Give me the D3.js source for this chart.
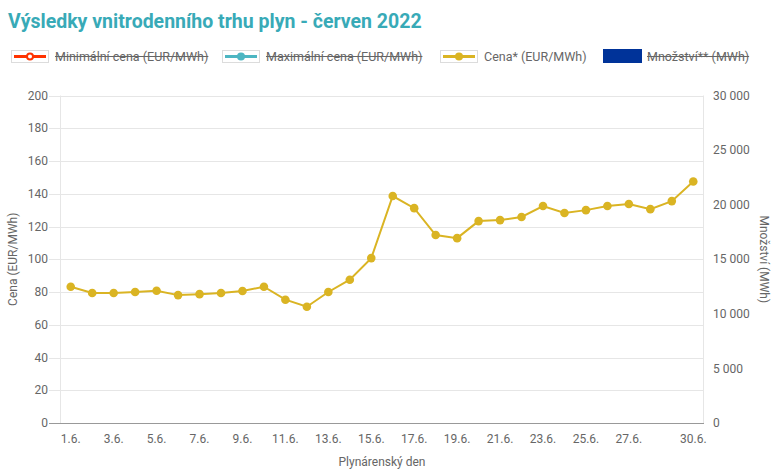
<!DOCTYPE html>
<html>
<head>
<meta charset="utf-8">
<script src="https://cdn.jsdelivr.net/npm/d3@7/dist/d3.min.js"></script>
<style>
  html, body { margin: 0; padding: 0; background: #fff; }
  svg { display: block; font-family: Roboto, "Noto Sans", sans-serif; }
</style>
</head>
<body>
<svg id="chart" width="780" height="475"></svg>
<script>
const title = "Výsledky vnitrodenního trhu plyn - červen 2022";
const days = ["1.6.","2.6.","3.6.","4.6.","5.6.","6.6.","7.6.","8.6.","9.6.","10.6.",
  "11.6.","12.6.","13.6.","14.6.","15.6.","16.6.","17.6.","18.6.","19.6.","20.6.",
  "21.6.","22.6.","23.6.","24.6.","25.6.","26.6.","27.6.","28.6.","29.6.","30.6."];
const price = [83.2, 79.4, 79.4, 80.0, 80.8, 78.1, 78.7, 79.4, 80.6, 83.2,
  75.3, 71.0, 80.0, 87.5, 100.7, 138.6, 131.2, 114.8, 112.9, 123.3,
  123.9, 125.8, 132.5, 128.2, 130.0, 132.5, 133.7, 130.6, 135.5, 147.5];
const xTickLabels = ["1.6.","3.6.","5.6.","7.6.","9.6.","11.6.","13.6.","15.6.","17.6.","19.6.","21.6.","23.6.","25.6.","27.6.","30.6."];
const leftTicks = [0,20,40,60,80,100,120,140,160,180,200];
const rightTicks = [0,5000,10000,15000,20000,25000,30000];
const legendItems = [
  {name: "Minimální cena (EUR/MWh)", type: "line", color: "#ff3300", hollow: true, hidden: true},
  {name: "Maximální cena (EUR/MWh)", type: "line", color: "#4db6c2", hollow: false, hidden: true},
  {name: "Cena* (EUR/MWh)", type: "line", color: "#dab423", hollow: false, hidden: false},
  {name: "Množství** (MWh)", type: "box", color: "#003399", hollow: false, hidden: true}
];

const svg = d3.select("#chart");
const L = 60, R = 704, T = 95.5, B = 423;
const gridColor = "#e6e6e6", textColor = "#666";

const x = d3.scaleBand().domain(days).range([L, R]);
const y = d3.scaleLinear().domain([0, 200]).range([B, T]);
const y2 = d3.scaleLinear().domain([0, 30000]).range([B, T]);

// Title
svg.append("text").attr("x", 8).attr("y", 28)
  .attr("font-size", 19.5).attr("font-weight", 700).attr("fill", "#38aab7")
  .text(title);

// Legend
const legendX = [11, 222, 440, 603];
legendItems.forEach((d, i) => {
  const g = svg.append("g").attr("transform", `translate(${legendX[i]},50)`);
  if (d.type === "line") {
    g.append("rect").attr("x", 0.5).attr("y", 0.5).attr("width", 37).attr("height", 12)
      .attr("fill", "#fff").attr("stroke", "#dcdcdc");
    g.append("line").attr("x1", 3).attr("x2", 35).attr("y1", 6.5).attr("y2", 6.5)
      .attr("stroke", d.color).attr("stroke-width", 3);
    g.append("circle").attr("cx", 19).attr("cy", 6.5).attr("r", d.hollow ? 3 : 4)
      .attr("fill", d.hollow ? "#fff" : d.color).attr("stroke", d.color).attr("stroke-width", d.hollow ? 2 : 0);
  } else {
    g.append("rect").attr("x", 0).attr("y", -1).attr("width", 39).attr("height", 14)
      .attr("fill", d.color);
  }
  const t = g.append("text").attr("x", 44).attr("y", 11).attr("font-size", 12.5)
    .attr("fill", textColor).text(d.name);
  if (d.hidden) {
    const w = t.node().getComputedTextLength();
    g.append("line").attr("x1", 44).attr("x2", 44 + w).attr("y1", 6.5).attr("y2", 6.5)
      .attr("stroke", textColor).attr("stroke-width", 1);
  }
});

// Grid
svg.append("g").selectAll("line").data(leftTicks).join("line")
  .attr("x1", L - 11).attr("x2", R).attr("y1", d => Math.round(y(d)) + 0.5).attr("y2", d => Math.round(y(d)) + 0.5)
  .attr("stroke", d => d === 0 ? "#999" : gridColor).attr("stroke-width", 1);
svg.append("line").attr("x1", L + 0.5).attr("x2", L + 0.5).attr("y1", T).attr("y2", B)
  .attr("stroke", gridColor);
svg.append("line").attr("x1", R - 0.5).attr("x2", R - 0.5).attr("y1", T).attr("y2", B)
  .attr("stroke", gridColor);

// Left axis labels
svg.append("g").selectAll("text").data(leftTicks).join("text")
  .attr("x", 48).attr("y", d => y(d)).attr("dy", "0.35em").attr("text-anchor", "end")
  .attr("font-size", 12).attr("fill", textColor).text(d => d);

// Right axis labels
svg.append("g").selectAll("text").data(rightTicks).join("text")
  .attr("x", 713).attr("y", d => y2(d)).attr("dy", "0.35em").attr("text-anchor", "start")
  .attr("font-size", 12).attr("fill", textColor).text(d => d3.format(",")(d).replace(/,/g, " "));

// X labels
svg.append("g").selectAll("text").data(xTickLabels).join("text")
  .attr("x", d => x(d) + x.bandwidth() / 2).attr("y", 443).attr("text-anchor", "middle")
  .attr("font-size", 12).attr("fill", textColor).text(d => d);

// Axis titles
svg.append("text").attr("transform", `translate(17,${(T + B) / 2}) rotate(-90)`)
  .attr("text-anchor", "middle").attr("font-size", 12).attr("fill", textColor).text("Cena (EUR/MWh)");
svg.append("text").attr("transform", `translate(760,${(T + B) / 2}) rotate(90)`)
  .attr("text-anchor", "middle").attr("font-size", 12).attr("fill", textColor).text("Množství (MWh)");
svg.append("text").attr("x", (L + R) / 2).attr("y", 466)
  .attr("text-anchor", "middle").attr("font-size", 12).attr("fill", textColor).text("Plynárenský den");

// Line
const cx = (d, i) => x(days[i]) + x.bandwidth() / 2;
const line = d3.line().x((d, i) => cx(d, i)).y(d => y(d));
svg.append("path").datum(price).attr("d", line).attr("fill", "none")
  .attr("stroke", "#dab423").attr("stroke-width", 2);
svg.append("g").selectAll("circle").data(price).join("circle")
  .attr("cx", (d, i) => cx(d, i)).attr("cy", d => y(d)).attr("r", 4.3)
  .attr("fill", "#dab423");
</script>
</body>
</html>
